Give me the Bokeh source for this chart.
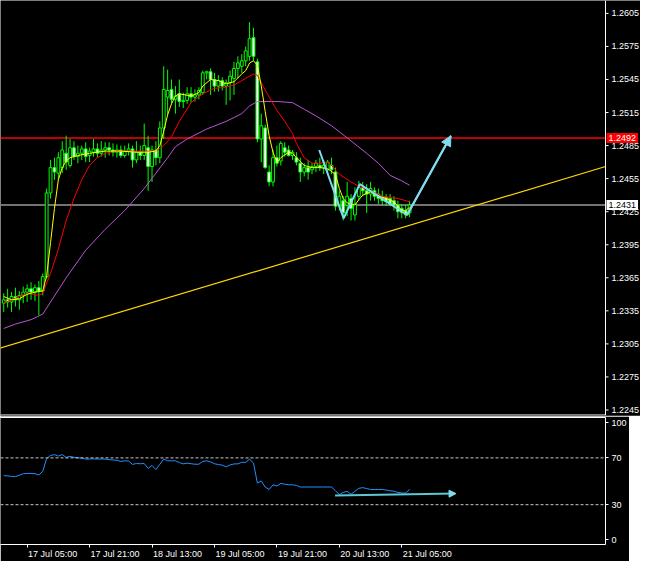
from bokeh.plotting import figure
from bokeh.layouts import column
from bokeh.models import (Range1d, LinearAxis, FixedTicker, Span, Label, Arrow,
                          NormalHead, CustomJSTickFormatter, ColumnDataSource)
from bokeh.core.properties import value
from bokeh.embed import file_html
from bokeh.resources import INLINE

# H1 bars, x = hours counted from 17 Jul 05:00
bar_hour = list(range(-6, 99))

opens = [1.2342, 1.2345, 1.2343, 1.2348, 1.2345, 1.2349, 1.2352, 1.2355, 1.2352, 1.2356,
         1.2353, 1.2366, 1.2442, 1.2465, 1.2460, 1.2465, 1.2478, 1.2467, 1.2483, 1.2475,
         1.2478, 1.2482, 1.2476, 1.2479, 1.2482, 1.2478, 1.2481, 1.2483, 1.2481, 1.2479,
         1.2481, 1.2476, 1.2480, 1.2482, 1.2472, 1.2479, 1.2476, 1.2483, 1.2466, 1.2481,
         1.2474, 1.2501, 1.2529, 1.2536, 1.2527, 1.2532, 1.2525, 1.2526, 1.2532, 1.2529,
         1.2531, 1.2533, 1.2551, 1.2552, 1.2545, 1.2539, 1.2544, 1.2539, 1.2542, 1.2546,
         1.2555, 1.2557, 1.2562, 1.2566, 1.2583, 1.2561, 1.2491, 1.2501, 1.2461, 1.2452,
         1.2474, 1.2471, 1.2483, 1.2481, 1.2476, 1.2474, 1.2469, 1.2461, 1.2465, 1.2463,
         1.2466, 1.2467, 1.2465, 1.2463, 1.2467, 1.2461, 1.2430, 1.2435, 1.2431, 1.2437,
         1.2422, 1.2439, 1.2447, 1.2444, 1.2441, 1.2444, 1.2441, 1.2439, 1.2438, 1.2437,
         1.2435, 1.2431, 1.2428, 1.2426, 1.2424]
highs = [1.2351, 1.2355, 1.2352, 1.2356, 1.2353, 1.2357, 1.2359, 1.2361, 1.2359, 1.2362,
         1.2369, 1.2446, 1.2472, 1.2474, 1.2479, 1.2489, 1.2494, 1.2491, 1.2489, 1.2485,
         1.2485, 1.2488, 1.2483, 1.2491, 1.2487, 1.2489, 1.2488, 1.2488, 1.2487, 1.2486,
         1.2485, 1.2485, 1.2487, 1.2485, 1.2489, 1.2485, 1.2505, 1.2494, 1.2485, 1.2489,
         1.2507, 1.2557, 1.2554, 1.2545, 1.2539, 1.2545, 1.2533, 1.2538, 1.2538, 1.2536,
         1.2538, 1.2553, 1.2553, 1.2555, 1.2551, 1.2549, 1.2547, 1.2545, 1.2553, 1.2561,
         1.2566, 1.2568, 1.2575, 1.2597, 1.2592, 1.2564, 1.2514, 1.2504, 1.2467, 1.2481,
         1.2485, 1.2489, 1.2488, 1.2485, 1.2481, 1.2479, 1.2474, 1.2469, 1.2472, 1.2469,
         1.2472, 1.2474, 1.2472, 1.2472, 1.2474, 1.2465, 1.2444, 1.2439, 1.2452, 1.2441,
         1.2447, 1.2453, 1.2452, 1.2450, 1.2452, 1.2447, 1.2446, 1.2444, 1.2441, 1.2441,
         1.2439, 1.2435, 1.2432, 1.2431, 1.2435]
lows = [1.2334, 1.2338, 1.2334, 1.2339, 1.2336, 1.2342, 1.2343, 1.2345, 1.2344, 1.2331,
        1.2349, 1.2364, 1.2437, 1.2454, 1.2454, 1.2460, 1.2463, 1.2465, 1.2472, 1.2469,
        1.2472, 1.2470, 1.2470, 1.2475, 1.2474, 1.2475, 1.2474, 1.2476, 1.2475, 1.2474,
        1.2474, 1.2474, 1.2476, 1.2465, 1.2469, 1.2472, 1.2472, 1.2444, 1.2452, 1.2467,
        1.2469, 1.2491, 1.2513, 1.2523, 1.2514, 1.2520, 1.2519, 1.2523, 1.2524, 1.2525,
        1.2527, 1.2531, 1.2545, 1.2531, 1.2534, 1.2534, 1.2535, 1.2522, 1.2526, 1.2531,
        1.2546, 1.2551, 1.2557, 1.2562, 1.2562, 1.2488, 1.2470, 1.2464, 1.2448, 1.2448,
        1.2466, 1.2467, 1.2475, 1.2475, 1.2472, 1.2467, 1.2452, 1.2457, 1.2454, 1.2459,
        1.2461, 1.2462, 1.2459, 1.2459, 1.2459, 1.2426, 1.2426, 1.2417, 1.2421, 1.2417,
        1.2417, 1.2435, 1.2439, 1.2424, 1.2435, 1.2435, 1.2432, 1.2431, 1.2430, 1.2430,
        1.2426, 1.2419, 1.2419, 1.2419, 1.2420]
closes = [1.2345, 1.2343, 1.2348, 1.2345, 1.2349, 1.2352, 1.2355, 1.2352, 1.2356, 1.2353,
          1.2366, 1.2442, 1.2465, 1.2461, 1.2474, 1.2481, 1.2470, 1.2483, 1.2475, 1.2478,
          1.2482, 1.2475, 1.2480, 1.2482, 1.2478, 1.2481, 1.2483, 1.2481, 1.2479, 1.2481,
          1.2476, 1.2480, 1.2482, 1.2472, 1.2479, 1.2476, 1.2485, 1.2466, 1.2481, 1.2474,
          1.2501, 1.2536, 1.2535, 1.2527, 1.2530, 1.2525, 1.2526, 1.2532, 1.2529, 1.2531,
          1.2535, 1.2551, 1.2552, 1.2545, 1.2539, 1.2544, 1.2539, 1.2542, 1.2548, 1.2555,
          1.2560, 1.2562, 1.2571, 1.2582, 1.2566, 1.2491, 1.2503, 1.2465, 1.2452, 1.2474,
          1.2469, 1.2487, 1.2479, 1.2476, 1.2479, 1.2470, 1.2461, 1.2465, 1.2461, 1.2466,
          1.2469, 1.2465, 1.2467, 1.2470, 1.2463, 1.2430, 1.2439, 1.2424, 1.2439, 1.2428,
          1.2432, 1.2447, 1.2444, 1.2441, 1.2446, 1.2439, 1.2437, 1.2435, 1.2434, 1.2432,
          1.2431, 1.2425, 1.2424, 1.2422, 1.2431]

# moving averages
fast_ma_hour = [-6, -4, -2, 0, 2, 4, 5, 6, 7, 8, 9, 10, 11, 13, 16, 20, 24, 28, 31, 33,
                34, 35, 36, 37, 38, 39, 42, 44, 45, 47, 49, 51, 53, 55, 56, 57, 58, 59, 60,
                61, 62, 63, 64, 65, 67, 68, 69, 71, 73, 75, 77, 79, 80, 81, 82, 84, 85, 86,
                88, 90, 92, 94, 95, 96, 97, 98]
fast_ma = [1.2348, 1.2345, 1.2346, 1.2350, 1.2352, 1.2353, 1.2367, 1.2397, 1.2428, 1.2454,
           1.2465, 1.2471, 1.2474, 1.2476, 1.2478, 1.2480, 1.2480, 1.2479, 1.2479, 1.2480,
           1.2485, 1.2498, 1.2513, 1.2523, 1.2530, 1.2532, 1.2530, 1.2533, 1.2539, 1.2545,
           1.2544, 1.2541, 1.2543, 1.2550, 1.2553, 1.2560, 1.2562, 1.2558, 1.2539, 1.2516,
           1.2494, 1.2479, 1.2470, 1.2474, 1.2479, 1.2478, 1.2474, 1.2467, 1.2465, 1.2465,
           1.2464, 1.2459, 1.2446, 1.2437, 1.2433, 1.2431, 1.2436, 1.2440, 1.2443, 1.2439,
           1.2437, 1.2434, 1.2430, 1.2426, 1.2426, 1.2429]
mid_ma_hour = [-6, -2, 0, 3, 4, 6, 8, 10, 12, 14, 16, 18, 20, 23, 28, 33, 35, 37, 39, 42,
               45, 48, 51, 53, 56, 58, 59, 60, 62, 64, 66, 68, 69, 71, 73, 75, 77, 78, 80,
               83, 85, 88, 91, 95, 98]
mid_ma = [1.2342, 1.2348, 1.2351, 1.2349, 1.2351, 1.2369, 1.2391, 1.2417, 1.2437, 1.2454,
          1.2467, 1.2474, 1.2478, 1.2480, 1.2480, 1.2480, 1.2485, 1.2493, 1.2507, 1.2524,
          1.2532, 1.2537, 1.2538, 1.2540, 1.2546, 1.2550, 1.2549, 1.2542, 1.2529, 1.2517,
          1.2507, 1.2496, 1.2487, 1.2474, 1.2469, 1.2469, 1.2470, 1.2467, 1.2459, 1.2452,
          1.2448, 1.2444, 1.2439, 1.2437, 1.2434]
slow_ma_hour = [-6, -3, 1, 4, 6, 10, 15, 20, 25, 30, 33, 36, 38, 41, 46, 51, 55, 57, 59,
                64, 68, 71, 74, 78, 82, 87, 90, 93, 96, 98]
slow_ma = [1.2319, 1.2323, 1.2327, 1.2332, 1.2343, 1.2365, 1.2390, 1.2409, 1.2426, 1.2446,
           1.2460, 1.2474, 1.2484, 1.2491, 1.2500, 1.2507, 1.2514, 1.2521, 1.2525, 1.2525,
           1.2524, 1.2518, 1.2512, 1.2503, 1.2492, 1.2478, 1.2469, 1.2458, 1.2453, 1.2449]

rsi_values = [54.8, 54.6, 54.2, 54.0, 55.2, 56.5, 56.7, 56.7, 56.5, 55.4,
              58.5, 69.5, 72.0, 72.8, 71.5, 72.8, 70.5, 71.3, 70.5, 70.0,
              69.8, 69.0, 69.0, 69.2, 69.0, 69.0, 69.0, 68.5, 68.2, 68.0,
              66.9, 67.5, 67.3, 64.4, 65.2, 65.0, 65.2, 61.0, 63.5, 60.0,
              64.5, 69.0, 67.5, 67.5, 67.5, 66.0, 64.9, 65.5, 65.0, 64.6,
              64.6, 67.0, 67.5, 66.5, 65.0, 64.3, 63.8, 62.3, 64.0, 64.8,
              64.9, 66.2, 66.2, 69.0, 65.5, 48.5, 50.3, 45.1, 43.0, 46.9,
              46.0, 48.2, 47.5, 47.0, 47.0, 46.5, 45.1, 45.1, 45.1, 45.1,
              45.1, 45.1, 45.1, 45.1, 45.1, 42.0, 38.7, 40.5, 41.5, 38.9,
              41.5, 44.0, 44.6, 43.8, 43.0, 43.0, 43.0, 43.0, 42.5, 42.0,
              41.5, 40.5, 40.0, 40.0, 43.0]

price_ticks = [1.2245, 1.2275, 1.2305, 1.2335, 1.2365, 1.2395, 1.2425, 1.2455,
               1.2485, 1.2515, 1.2545, 1.2575, 1.2605]
rsi_ticks = [0, 30, 70, 100]
rsi_levels = [30, 70]
date_tick_hour = [-16, 0, 16, 32, 48, 64, 80, 96]
date_tick_labels = ["16 Jul 13:00", "17 Jul 05:00", "17 Jul 21:00", "18 Jul 13:00",
                    "19 Jul 05:00", "19 Jul 21:00", "20 Jul 13:00", "21 Jul 05:00"]

red_line_price = 1.2492
bid_price = 1.2431

trend_hour = [-7, 148.2]
trend_price = [1.2301, 1.2466]

wave_hour = [74.85, 81.1, 85.25, 97.35, 108.6]
wave_price = [1.2481, 1.2419, 1.2450, 1.2422, 1.2494]

rsi_arrow_hour = [78.9, 109.9]
rsi_arrow_value = [37.9, 39.5]

# ---------------------------------------------------------------- styling
FONT = "Liberation Sans"
CYAN = "#7fdcf0"
X_LO, X_HI = -6.825, 148.2          # visible bar window (chart area)
Y_LO, Y_HI = 1.2240, 1.26167
CHART_W, FULL_W = 605, 640
XPX = CHART_W / (X_HI - X_LO)       # pixels per bar
MAIN_H = 415
YPX = MAIN_H / (Y_HI - Y_LO)


def dx(px):
    return px / XPX


def dy(px):
    return px / YPX


# ---------------------------------------------------------------- main panel
main = figure(frame_width=FULL_W, frame_height=MAIN_H,
              x_range=Range1d(X_LO, X_LO + dx(FULL_W)), y_range=Range1d(Y_LO, Y_HI),
              output_backend="svg", toolbar_location=None,
              x_axis_location=None, y_axis_location=None,
              background_fill_color="black", border_fill_color="black",
              outline_line_color=None, min_border_left=0, min_border_right=0,
              min_border_top=0, min_border_bottom=1)
main.xgrid.visible = False
main.ygrid.visible = False

# horizontal lines (stop at the price scale)
main.segment(x0=[X_LO], y0=[red_line_price], x1=[X_HI], y1=[red_line_price],
             line_color="#ff0000", line_width=1.5)
main.segment(x0=[X_LO], y0=[bid_price], x1=[X_HI], y1=[bid_price],
             line_color="#9a9a9a", line_width=1.5)

main.line(trend_hour, trend_price, line_color="#ffd700", line_width=1.2)

body_top = [max(o, c) for o, c in zip(opens, closes)]
body_bottom = [min(o, c) for o, c in zip(opens, closes)]
body_fill = ["black" if c >= o else "white" for o, c in zip(opens, closes)]
src = ColumnDataSource(dict(x=bar_hour, high=highs, low=lows, top=body_top,
                            bottom=body_bottom, fill=body_fill))
main.segment(x0="x", y0="low", x1="x", y1="high", source=src, line_color="#00ff00",
             line_width=1)
main.vbar(x="x", width=0.72, top="top", bottom="bottom", source=src,
          fill_color="fill", line_color="#00ff00", line_width=1)

main.line(slow_ma_hour, slow_ma, line_color="#ba55d3", line_width=1)
main.line(mid_ma_hour, mid_ma, line_color="#ff0000", line_width=1)
main.line(fast_ma_hour, fast_ma, line_color="#ffff00", line_width=1)

main.line(wave_hour, wave_price, line_color=CYAN, line_width=2)
main.add_layout(Arrow(end=NormalHead(size=10, fill_color=CYAN, line_color=CYAN),
                      x_start=wave_hour[-2], y_start=wave_price[-2],
                      x_end=wave_hour[-1], y_end=wave_price[-1],
                      line_color=CYAN, line_width=2))

# price scale on the right
main.segment(x0=[X_HI], y0=[Y_LO], x1=[X_HI], y1=[Y_HI], line_color="white", line_width=1)
main.segment(x0=[X_LO], y0=[Y_LO + dy(0.5)], x1=[X_HI], y1=[Y_LO + dy(0.5)],
             line_color="white", line_width=1)
n = len(price_ticks)
main.segment(x0=[X_HI] * n, y0=price_ticks, x1=[X_HI + dx(3)] * n, y1=price_ticks,
             line_color="white", line_width=1)
main.text(x=[X_HI + dx(6)] * n, y=price_ticks, text=[f"{p:.4f}" for p in price_ticks],
          text_color="white", text_font=value(FONT), text_font_size="9px",
          text_align="left", text_baseline="middle")

main.add_layout(Label(x=X_HI, y=red_line_price, x_offset=1, text=f"{red_line_price:.4f}",
                      text_color="white", background_fill_color="#ff0000",
                      text_font=FONT, text_font_size="9px", text_align="left",
                      text_baseline="middle", padding=2))
main.add_layout(Label(x=X_HI, y=bid_price, x_offset=1, text=f"{bid_price:.4f}",
                      text_color="black", background_fill_color="white",
                      text_font=FONT, text_font_size="9px", text_align="left",
                      text_baseline="middle", padding=2))

# ---------------------------------------------------------------- RSI panel
rsi = figure(frame_width=CHART_W, frame_height=127, x_range=Range1d(X_LO, X_HI),
             y_range=Range1d(-4, 104.5), output_backend="svg",
             toolbar_location=None, x_axis_location=None, y_axis_location=None,
             background_fill_color="black", border_fill_color="black",
             outline_line_color=None, min_border_left=0, min_border_right=0,
             min_border_top=1, min_border_bottom=0)
rsi.xgrid.visible = False
rsi.ygrid.visible = False

rax = LinearAxis(ticker=FixedTicker(ticks=rsi_ticks), axis_line_color="white",
                 major_tick_line_color="white", major_tick_out=3, major_tick_in=0,
                 minor_tick_line_color=None, major_label_text_color="white",
                 major_label_text_font=FONT, major_label_text_font_size="9px",
                 major_label_standoff=3)
rsi.add_layout(rax, "right")
tax = LinearAxis(ticker=FixedTicker(ticks=[]), axis_line_color="white",
                 major_tick_line_color=None, minor_tick_line_color=None,
                 major_tick_out=0, major_tick_in=0, major_label_standoff=0,
                 major_label_text_font_size="0px")
rsi.add_layout(tax, "above")
# tick marks of the time scale
dax = LinearAxis(ticker=FixedTicker(ticks=date_tick_hour), axis_line_color="white",
                 major_tick_line_color="white", major_tick_out=3, major_tick_in=0,
                 minor_tick_line_color=None, major_label_standoff=0,
                 formatter=CustomJSTickFormatter(code="return ''"),
                 major_label_text_font_size="0px")
rsi.add_layout(dax, "below")
# time labels, set to start at their tick (MetaTrader style)
LABEL_SHIFT = dx(25.5)
label_pos = [h + LABEL_SHIFT for h in date_tick_hour]
lax = LinearAxis(ticker=FixedTicker(ticks=label_pos),
                 major_label_overrides={p: t for p, t in zip(label_pos, date_tick_labels)},
                 axis_line_color=None, major_tick_line_color=None,
                 minor_tick_line_color=None, major_tick_out=0, major_tick_in=0,
                 major_label_standoff=1, major_label_text_color="white",
                 major_label_text_font=FONT, major_label_text_font_size="9px")
rsi.add_layout(lax, "below")

for lv in rsi_levels:
    rsi.add_layout(Span(location=lv, dimension="width", line_color="#c8c8c8",
                        line_width=1, line_dash="3 2"))

rsi.line(bar_hour, rsi_values, line_color="#1e90ff", line_width=1)
rsi.add_layout(Arrow(end=NormalHead(size=7, fill_color=CYAN, line_color=CYAN),
                     x_start=rsi_arrow_hour[0], y_start=rsi_arrow_value[0],
                     x_end=rsi_arrow_hour[1], y_end=rsi_arrow_value[1],
                     line_color="#5cc8d4", line_width=2))

layout = column(main, rsi, spacing=0)
open("out.html", "w").write(file_html(layout, INLINE, title="chart"))
